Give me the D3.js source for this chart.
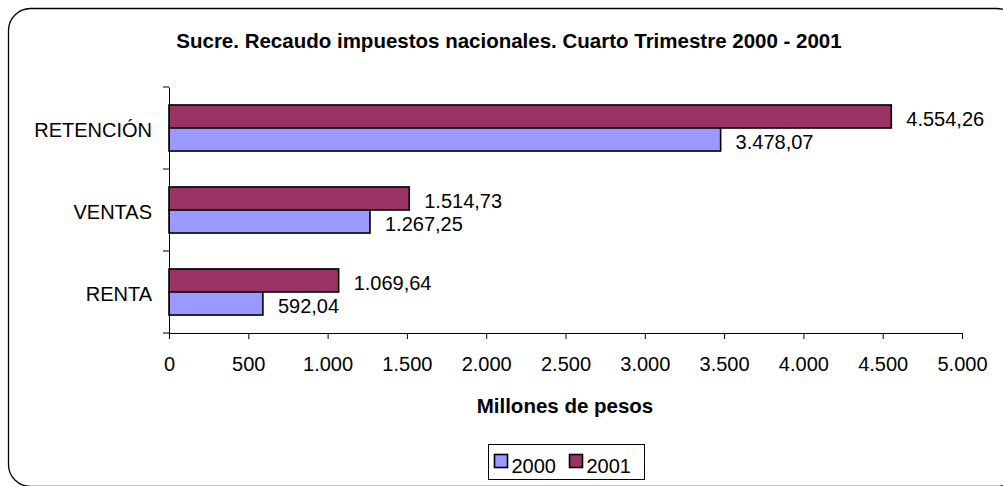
<!DOCTYPE html>
<html>
<head>
<meta charset="utf-8">
<script src="https://cdn.jsdelivr.net/npm/d3@7"></script>
<style>
  body { margin: 0; background: #fff; }
  svg { font-family: "Liberation Sans", Arial, sans-serif; }
</style>
</head>
<body>
<svg id="chart" width="1003" height="486"></svg>
<script>
// datos
var categorias = ["RETENCIÓN", "VENTAS", "RENTA"];
var series = ["2001", "2000"];
var valores2000 = [3478.07, 1267.25, 592.04];
var valores2001 = [4554.26, 1514.73, 1069.64];
var ticksX = [0, 500, 1000, 1500, 2000, 2500, 3000, 3500, 4000, 4500, 5000];

var colores = { "2000": "#9999FF", "2001": "#993366" };

var es = d3.formatLocale({ decimal: ",", thousands: ".", grouping: [3], currency: ["$", ""] });
var fmtLabel = es.format(",.2f"),
    fmtTick = es.format(",.0f");

var svg = d3.select("#chart"),
    width = +svg.attr("width"),
    height = +svg.attr("height");

var m = { left: 169, right: 962, top: 87, bottom: 333 };
var fs = "20px";

// marco redondeado
svg.append("rect")
  .attr("x", 8.5).attr("y", 8.5)
  .attr("width", 1010).attr("height", 478)
  .attr("rx", 22).attr("ry", 22)
  .attr("fill", "none").attr("stroke", "#000").attr("stroke-width", 1.3);

svg.append("text")
  .attr("x", 509).attr("y", 48)
  .attr("text-anchor", "middle")
  .style("font-weight", "bold").style("font-size", "20.5px")
  .text("Sucre. Recaudo impuestos nacionales. Cuarto Trimestre 2000 - 2001");

var x = d3.scaleLinear().domain([0, 5000]).range([m.left, m.right]);
var y = d3.scaleBand().domain(categorias).range([m.top, m.bottom]).padding(0);
var ySub = d3.scaleBand().domain(series).range([0, y.bandwidth()]).paddingInner(0).paddingOuter(0.78);

var filas = categorias.map(function (c, i) {
  return { cat: c, v: { "2000": valores2000[i], "2001": valores2001[i] } };
});

// barras
var g = svg.append("g");
filas.forEach(function (f) {
  series.forEach(function (s) {
    var y0 = y(f.cat) + ySub(s);
    g.append("rect")
      .attr("x", x(0)).attr("y", y0)
      .attr("width", x(f.v[s]) - x(0)).attr("height", ySub.bandwidth())
      .attr("fill", colores[s]).attr("stroke", "#000").attr("stroke-width", 1.6);
    g.append("text")
      .attr("x", x(f.v[s]) + 15).attr("y", y0 + ySub.bandwidth() / 2 + 2.5)
      .attr("dy", "0.35em")
      .style("font-size", fs)
      .text(fmtLabel(f.v[s]));
  });
});

// eje x
var ax = svg.append("g").attr("transform", "translate(0," + m.bottom + ")")
  .call(d3.axisBottom(x).tickValues(ticksX).tickFormat(fmtTick).tickSize(6).tickSizeOuter(0).tickPadding(18));
ax.select(".domain").attr("stroke", "#000");
ax.selectAll("text").style("font-size", fs).style("font-family", "Liberation Sans, Arial, sans-serif")
  .attr("fill", "#000");

// eje y
var ay = svg.append("g").attr("transform", "translate(" + m.left + ",0)")
  .call(d3.axisLeft(y).tickSize(0).tickSizeOuter(0).tickPadding(17));
ay.select(".domain").attr("stroke", "#000");
ay.selectAll("text").style("font-size", fs).style("font-family", "Liberation Sans, Arial, sans-serif")
  .attr("fill", "#000").attr("dy", "0.45em");
var bordes = categorias.map(function (c) { return y(c); }).concat([m.bottom]);
ay.selectAll(".borde").data(bordes).enter().append("line")
  .attr("x1", -6).attr("x2", 0)
  .attr("y1", function (d) { return d; }).attr("y2", function (d) { return d; })
  .attr("stroke", "#000");

svg.append("text")
  .attr("x", 565).attr("y", 413)
  .attr("text-anchor", "middle")
  .style("font-weight", "bold").style("font-size", "20.5px")
  .text("Millones de pesos");

// leyenda
var leg = svg.append("g");
leg.append("rect")
  .attr("x", 488.5).attr("y", 444.5).attr("width", 156).attr("height", 35)
  .attr("fill", "#fff").attr("stroke", "#000");
var legItems = ["2000", "2001"];
legItems.forEach(function (s, i) {
  var lx = 494.5 + i * 75;
  leg.append("rect")
    .attr("x", lx).attr("y", 454.5).attr("width", 13).attr("height", 13)
    .attr("fill", colores[s]).attr("stroke", "#000").attr("stroke-width", 1.6);
  leg.append("text")
    .attr("x", lx + 17).attr("y", 473)
    .style("font-size", fs)
    .text(s);
});
</script>
</body>
</html>
